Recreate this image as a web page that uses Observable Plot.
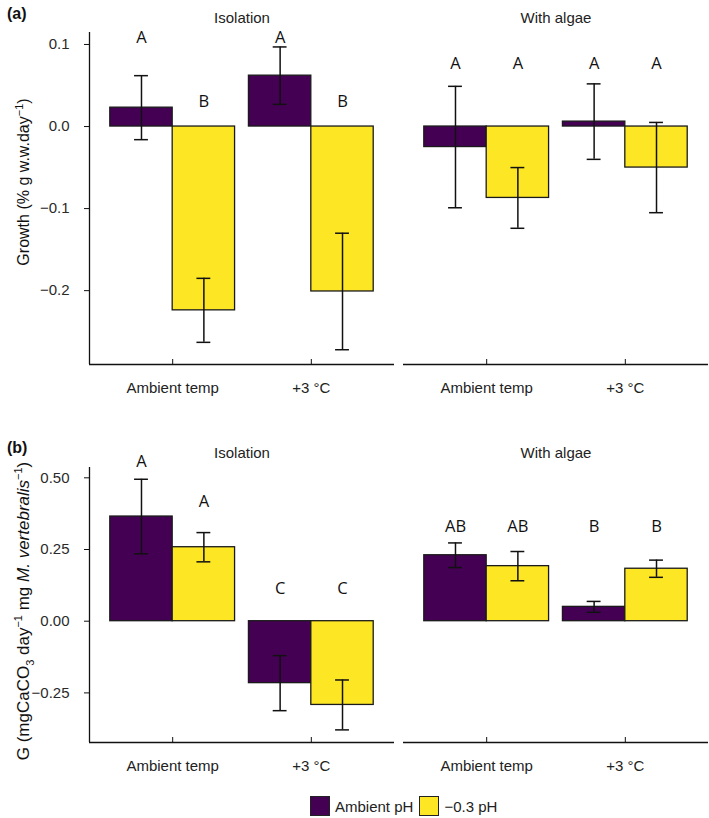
<!DOCTYPE html>
<html>
<head>
<meta charset="utf-8">
<script src="https://cdn.jsdelivr.net/npm/d3@7"></script>
<script src="https://cdn.jsdelivr.net/npm/@observablehq/plot@0.6"></script>
<style>
  body { margin: 0; background: white; }
  #fig { position: relative; width: 709px; height: 818px; font-family: "Liberation Sans", Arial, sans-serif; color: #222; }
  .panel { position: absolute; left: 0; z-index: 1; }
  .tag { position: absolute; left: 7px; font-weight: bold; font-size: 16px; z-index: 2; color: #111; }
  #legend { position: absolute; left: 310px; top: 796px; display: flex; align-items: center; font-size: 15px; z-index: 2; }
  .sw { width: 18px; height: 18px; border: 1.5px solid #222; display: inline-block; margin-right: 5px; }
</style>
</head>
<body>
<div id="fig">
  <div class="tag" style="top:5px">(a)</div>
  <div class="tag" style="top:439px">(b)</div>
  <div id="pa" class="panel" style="top:0px"></div>
  <div id="pb" class="panel" style="top:420px"></div>
  <div id="legend"></div>
</div>
<script>
// ---- categories ----
const conditions = ["Isolation", "With algae"];
const temps = ["Ambient temp", "+3 °C"];
const phLevels = ["Ambient pH", "−0.3 pH"];
const phColors = ["#440154", "#FDE725"];

// ---- panel (a): growth, order = condition × temp × pH ----
const growthMean = [0.023, -0.224, 0.062, -0.201, -0.025, -0.087, 0.006, -0.050];
const growthSE   = [0.039, 0.039, 0.035, 0.071, 0.074, 0.037, 0.046, 0.055];
const growthLetters = ["A", "B", "A", "B", "A", "A", "A", "A"];
const growthLetterY = [0.108, 0.030, 0.108, 0.030, 0.077, 0.077, 0.077, 0.077];
const growthTicks = [-0.2, -0.1, 0.0, 0.1];
const growthDomain = [-0.290, 0.1146];

// ---- panel (b): calcification G ----
const calcMean = [0.365, 0.258, -0.216, -0.292, 0.230, 0.192, 0.050, 0.183];
const calcSE   = [0.130, 0.051, 0.096, 0.087, 0.043, 0.051, 0.019, 0.030];
const calcLetters = ["A", "A", "C", "C", "AB", "AB", "B", "B"];
const calcLetterY = [0.556, 0.415, 0.113, 0.113, 0.328, 0.328, 0.328, 0.328];
const calcTicks = [-0.25, 0.0, 0.25, 0.5];
const calcDomain = [-0.423, 0.536];

const xDomain = [0.4, 2.6];
const barW = 0.45;
const capHalf = 0.05;

function buildRows(means, ses, letters, ly) {
  const rows = [];
  let i = 0;
  conditions.forEach(condition => temps.forEach((temp, ti) => phLevels.forEach((ph, pi) => {
    const x1 = ti + 1 - barW + pi * barW;
    rows.push({condition, temp, ph, x1, x2: x1 + barW, xm: x1 + barW / 2,
      mean: means[i], lo: means[i] - ses[i], hi: means[i] + ses[i], letter: letters[i], ly: ly[i]});
    i++;
  })));
  return rows;
}

function panel(rows, yDomain, yTicks, fmt, height, marginTop, marginBottom) {
  return Plot.plot({
    width: 709, height, marginLeft: 89, marginRight: 1, marginTop, marginBottom,
    style: {fontFamily: '"Liberation Sans", Arial, sans-serif', fontSize: "15px", color: "#222", background: "white", overflow: "visible"},
    fx: {domain: conditions, paddingInner: 0.03, paddingOuter: 0, label: null},
    x: {domain: xDomain},
    y: {domain: yDomain},
    color: {domain: phLevels, range: phColors},
    marks: [
      Plot.axisFx({anchor: "top", tickSize: 0, tickPadding: 10, label: null, fontSize: 15}),
      Plot.axisY({ticks: yTicks, tickSize: 5, tickPadding: 15, tickFormat: fmt, label: null, fontSize: 15, stroke: "#111", color: "#2a2a2a"}),
      Plot.axisX({ticks: [1, 2], tickSize: -5, tickFormat: () => "", label: null, stroke: "#111"}),
      Plot.axisX({ticks: [1, 2], tickSize: 0, tickPadding: 18, tickFormat: d => temps[d - 1], label: null, fontSize: 15, color: "#222"}),
      Plot.rectY(rows, {fx: "condition", x1: "x1", x2: "x2", y1: 0, y2: "mean", fill: "ph", stroke: "#1a1a1a", strokeWidth: 1.3}),
      Plot.ruleX(rows, {fx: "condition", x: "xm", y1: "lo", y2: "hi", stroke: "#111", strokeWidth: 1.5}),
      Plot.ruleY(rows, {fx: "condition", y: "hi", x1: d => d.xm - capHalf, x2: d => d.xm + capHalf, stroke: "#111", strokeWidth: 1.5}),
      Plot.ruleY(rows, {fx: "condition", y: "lo", x1: d => d.xm - capHalf, x2: d => d.xm + capHalf, stroke: "#111", strokeWidth: 1.5}),
      Plot.ruleY([yDomain[0]], {stroke: "#111", strokeWidth: 1.3}),
      Plot.ruleX([{condition: conditions[0], x: xDomain[0]}], {fx: "condition", x: "x", stroke: "#111", strokeWidth: 1.3}),
      Plot.text(rows, {fx: "condition", x: "xm", y: "ly", text: "letter", fontSize: 16.5, fontFamily: '"Open Sans", sans-serif', fill: "#111"})
    ]
  });
}

const f1 = d => d3.format(".1f")(d);
const f2 = d => d3.format(".2f")(d);

const svgA = panel(buildRows(growthMean, growthSE, growthLetters, growthLetterY), growthDomain, growthTicks, f1, 410, 32, 46);
const svgB = panel(buildRows(calcMean, calcSE, calcLetters, calcLetterY), calcDomain, calcTicks, f2, 360, 47, 38);
document.getElementById("pa").appendChild(svgA);
document.getElementById("pb").appendChild(svgB);

// y-axis titles with super/subscripts and italics
function yTitle(svg, cy, size, parts) {
  const t = d3.select(svg).append("text")
    .attr("transform", `translate(29,${cy}) rotate(-90)`)
    .attr("text-anchor", "middle")
    .attr("font-size", size).attr("fill", "#111")
    .attr("font-family", '"Liberation Sans", Arial, sans-serif');
  let shift = 0;
  const small = Math.round(size * 0.66);
  for (const p of parts) {
    const s = t.append("tspan").text(p.t);
    const target = p.sup ? -Math.round(size * 0.4) : p.sub ? Math.round(size * 0.28) : 0;
    if (target !== shift) { s.attr("dy", target - shift); shift = target; }
    if (p.sup || p.sub) s.attr("font-size", small);
    if (p.it) s.attr("font-style", "italic");
  }
}
yTitle(svgA, 182, 16, [{t: "Growth (% g w.w.day"}, {t: "−1", sup: true}, {t: ")"}]);
yTitle(svgB, 191, 17, [{t: "G (mgCaCO"}, {t: "3", sub: true}, {t: " day"}, {t: "−1", sup: true}, {t: " mg "},
  {t: "M. vertebralis", it: true}, {t: "−1", sup: true}, {t: ")"}]);

// legend
const lg = document.getElementById("legend");
phLevels.forEach((p, i) => {
  const sw = document.createElement("span"); sw.className = "sw"; sw.style.background = phColors[i];
  if (i > 0) sw.style.marginLeft = "6px";
  const tx = document.createElement("span"); tx.textContent = p;
  lg.appendChild(sw); lg.appendChild(tx);
});
</script>
</body>
</html>
